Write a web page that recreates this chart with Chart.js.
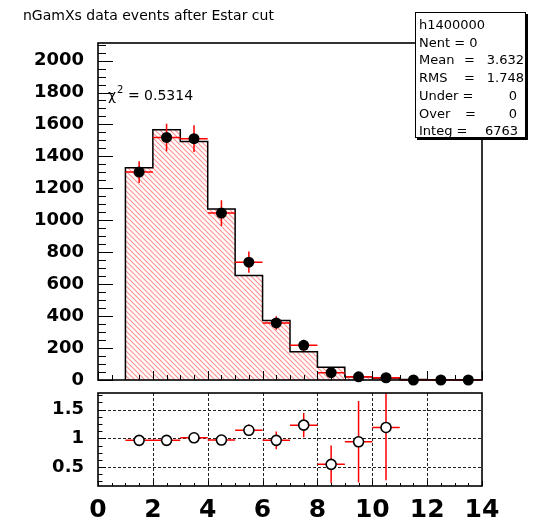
<!DOCTYPE html>
<html>
<head>
<meta charset="utf-8">
<script src="https://cdn.jsdelivr.net/npm/chart.js@4.4.1/dist/chart.umd.min.js"></script>
<style>
  body { margin: 0; background: #fff; width: 534px; height: 521px; position: relative; overflow: hidden; font-family: "DejaVu Sans", sans-serif; color: #000; }
  canvas { position: absolute; left: 0; }
  #top { top: 0; }
  #bottom { top: 386px; }
  #title { position: absolute; left: 23px; top: 7px; font-size: 14px; line-height: 16px; white-space: nowrap; }
  #chi { position: absolute; left: 108px; top: 87px; font-size: 14px; line-height: 16px; white-space: nowrap; }
  #chi span { font-size: 10px; position: relative; top: -7px; margin-left: 1px; }
  #stats { position: absolute; left: 415px; top: 12px; width: 109px; height: 124px; border: 1px solid #000; background: #fff; box-shadow: 2px 2px 0 #000; font-size: 13px; line-height: 17px; }
  #stats div { position: absolute; white-space: nowrap; }
</style>
</head>
<body>
<canvas id="top" width="534" height="386"></canvas>
<canvas id="bottom" width="534" height="135"></canvas>
<div id="title">nGamXs data events after Estar cut</div>
<div id="chi">χ<span>2</span> = 0.5314</div>
<div id="stats">
  <div style="left:3px;top:3px">h1400000</div>
  <div style="left:3px;top:20.7px">Nent = 0</div>
  <div style="left:3px;top:38.4px">Mean</div><div style="left:48px;top:38.4px">=</div><div style="right:1px;top:38.4px">3.632</div>
  <div style="left:3px;top:56.1px">RMS</div><div style="left:48px;top:56.1px">=</div><div style="right:1px;top:56.1px">1.748</div>
  <div style="left:3px;top:73.8px">Under =</div><div style="right:8px;top:73.8px">0</div>
  <div style="left:3px;top:91.5px">Over</div><div style="left:49px;top:91.5px">=</div><div style="right:8px;top:91.5px">0</div>
  <div style="left:3px;top:109.2px">Integ =</div><div style="right:7px;top:109.2px">6763</div>
</div>
<script>
// histogram (MC) bins and the data points on top of it
const binEdges = [1, 2, 3, 4, 5, 6, 7, 8, 9, 10, 11, 12, 13, 14];
const mcValues = [1329, 1567, 1494, 1070, 654, 372, 177, 80, 21, 12, 3, 2, 1];
const binCenters = [1.5, 2.5, 3.5, 4.5, 5.5, 6.5, 7.5, 8.5, 9.5, 10.5, 11.5, 12.5, 13.5];
const dataValues = [1302, 1519, 1511, 1045, 738, 357, 217, 46, 20, 14, 0, 0, 0];
const dataErrors = [68, 86, 84, 81, 66, 42, 35, 22, 12, 10, 0, 0, 0];

// ratio pad
const ratioCenters = [1.5, 2.5, 3.5, 4.5, 5.5, 6.5, 7.5, 8.5, 9.5, 10.5];
const ratioValues = [0.965, 0.965, 1.01, 0.97, 1.14, 0.965, 1.23, 0.547, 0.94, 1.19];
const ratioErrors = [0.05, 0.05, 0.05, 0.05, 0.10, 0.155, 0.21, 0.33, 0.71, 0.92];

// tick labels
const yTicks = [0, 200, 400, 600, 800, 1000, 1200, 1400, 1600, 1800, 2000];
const xTicks = [0, 2, 4, 6, 8, 10, 12, 14];
const ratioTicks = [0.5, 1, 1.5];

Chart.defaults.font.family = "DejaVu Sans";
Chart.defaults.color = "#000";

function hatch() {
  const c = document.createElement("canvas");
  c.width = 5; c.height = 5;
  const g = c.getContext("2d");
  g.strokeStyle = "rgba(255,70,70,0.6)";
  g.lineWidth = 1.1;
  g.beginPath();
  g.moveTo(-1, -1); g.lineTo(6, 6);
  g.moveTo(-1, 4); g.lineTo(1, 6);
  g.moveTo(4, -1); g.lineTo(6, 1);
  g.stroke();
  return g.createPattern(c, "repeat");
}

function noPad(s) {
  s.paddingTop = 0; s.paddingBottom = 0; s.paddingLeft = 0; s.paddingRight = 0;
}

function isMajor(v, step) {
  return Math.abs(v / step - Math.round(v / step)) < 1e-6;
}

function drawFrame(chart, t) {
  const { ctx, chartArea: a, scales: { x, y } } = chart;
  ctx.save();
  ctx.strokeStyle = "#000";
  ctx.lineWidth = 1;
  ctx.beginPath();
  for (let v = x.min; v <= x.max + 1e-9; v += t.xMinor) {
    const px = Math.round(x.getPixelForValue(v)) + 0.5;
    const len = isMajor(v, t.xMajor) ? t.xMajLen : t.xMinLen;
    ctx.moveTo(px, a.bottom); ctx.lineTo(px, a.bottom - len);
  }
  for (let v = t.yStart; v <= y.max + 1e-9; v += t.yMinor) {
    const py = Math.round(y.getPixelForValue(v)) + 0.5;
    const len = isMajor(v, t.yMajor) ? t.yMajLen : t.yMinLen;
    ctx.moveTo(a.left, py); ctx.lineTo(a.left + len, py);
  }
  ctx.stroke();
  ctx.lineWidth = 1.6;
  ctx.strokeRect(a.left, a.top, a.right - a.left, a.bottom - a.top);
  ctx.restore();
}

function drawErrors(chart, xs, ys, ey, clip) {
  const { ctx, chartArea: a, scales: { x, y } } = chart;
  ctx.save();
  if (clip) {
    ctx.beginPath();
    ctx.rect(a.left, a.top, a.right - a.left, a.bottom - a.top);
    ctx.clip();
  }
  ctx.strokeStyle = "#ff0000";
  ctx.lineWidth = 1.5;
  ctx.beginPath();
  xs.forEach((xv, i) => {
    const px = x.getPixelForValue(xv);
    const py = y.getPixelForValue(ys[i]);
    ctx.moveTo(x.getPixelForValue(xv - 0.5), py);
    ctx.lineTo(x.getPixelForValue(xv + 0.5), py);
    if (ey[i] > 0) {
      ctx.moveTo(px, y.getPixelForValue(ys[i] - ey[i]));
      ctx.lineTo(px, y.getPixelForValue(ys[i] + ey[i]));
    }
  });
  ctx.stroke();
  ctx.restore();
}

function drawGrid(chart) {
  const { ctx, chartArea: a, scales: { x, y } } = chart;
  ctx.save();
  ctx.strokeStyle = "#222";
  ctx.lineWidth = 1;
  ctx.setLineDash([3, 2]);
  ctx.beginPath();
  xTicks.slice(1, -1).forEach(v => {
    const px = Math.round(x.getPixelForValue(v)) + 0.5;
    ctx.moveTo(px, a.top); ctx.lineTo(px, a.bottom);
  });
  ratioTicks.forEach(v => {
    const py = Math.round(y.getPixelForValue(v)) + 0.5;
    ctx.moveTo(a.left, py); ctx.lineTo(a.right, py);
  });
  ctx.stroke();
  ctx.restore();
}

// upper pad
const histPoints = [{ x: binEdges[0], y: 0 }];
mcValues.forEach((v, i) => histPoints.push({ x: binEdges[i + 1], y: v }));
histPoints.push({ x: binEdges[binEdges.length - 1], y: 0 });

new Chart(document.getElementById("top"), {
  type: "line",
  data: {
    datasets: [
      {
        data: histPoints,
        stepped: "after",
        borderColor: "#000",
        borderWidth: 1.5,
        backgroundColor: hatch(),
        fill: "origin",
        pointRadius: 0,
        order: 2,
      },
      {
        data: binCenters.map((c, i) => ({ x: c, y: dataValues[i] })),
        showLine: false,
        pointRadius: 5.5,
        pointBackgroundColor: "#000",
        pointBorderWidth: 0,
        clip: false,
        order: 1,
      },
    ],
  },
  options: {
    responsive: false,
    animation: false,
    devicePixelRatio: 1,
    events: [],
    layout: { padding: { left: 0, top: 43, right: 52, bottom: 6 } },
    plugins: { legend: { display: false }, tooltip: { enabled: false } },
    scales: {
      x: { type: "linear", min: 0, max: 14, display: false },
      y: {
        min: 0,
        max: 2110,
        afterBuildTicks: s => { s.ticks = yTicks.map(v => ({ value: v })); },
        afterFit: s => { s.width = 98; noPad(s); },
        grid: { display: false },
        border: { display: false },
        ticks: { font: { size: 18, weight: "bold" }, padding: 6, callback: v => String(v) },
      },
    },
  },
  plugins: [{
    id: "rootFrame",
    afterDatasetDraw(chart, args) {
      if (args.index === 0) drawErrors(chart, binCenters, dataValues, dataErrors, false);
    },
    afterDraw(chart) {
      drawFrame(chart, { xMinor: 0.5, xMajor: 2, xMajLen: 9, xMinLen: 5, yStart: 0, yMinor: 50, yMajor: 200, yMajLen: 15, yMinLen: 8 });
    },
  }],
});

// ratio pad
new Chart(document.getElementById("bottom"), {
  type: "line",
  data: {
    datasets: [{
      data: ratioCenters.map((c, i) => ({ x: c, y: ratioValues[i] })),
      showLine: false,
      pointRadius: 5,
      pointBackgroundColor: "#fff",
      pointBorderColor: "#000",
      pointBorderWidth: 1.6,
    }],
  },
  options: {
    responsive: false,
    animation: false,
    devicePixelRatio: 1,
    events: [],
    layout: { padding: { left: 0, top: 7, right: 52, bottom: 0 } },
    plugins: { legend: { display: false }, tooltip: { enabled: false } },
    scales: {
      x: {
        type: "linear",
        min: 0,
        max: 14,
        afterBuildTicks: s => { s.ticks = xTicks.map(v => ({ value: v })); },
        afterFit: s => { s.height = 35; noPad(s); },
        grid: { display: false },
        border: { display: false },
        ticks: { font: { size: 25, weight: "bold" }, padding: 1, autoSkip: false, maxRotation: 0, callback: v => String(v) },
      },
      y: {
        min: 0.17,
        max: 1.79,
        afterBuildTicks: s => { s.ticks = ratioTicks.map(v => ({ value: v })); },
        afterFit: s => { s.width = 98; noPad(s); },
        grid: { display: false },
        border: { display: false },
        ticks: { font: { size: 18, weight: "bold" }, padding: 6, callback: v => String(v) },
      },
    },
  },
  plugins: [{
    id: "ratioFrame",
    beforeDatasetsDraw(chart) {
      drawGrid(chart);
      drawErrors(chart, ratioCenters, ratioValues, ratioErrors, true);
    },
    afterDraw(chart) {
      drawFrame(chart, { xMinor: 0.5, xMajor: 2, xMajLen: 5, xMinLen: 3, yStart: 0.25, yMinor: 0.125, yMajor: 0.5, yMajLen: 8, yMinLen: 4.5 });
    },
  }],
});
</script>
</body>
</html>
